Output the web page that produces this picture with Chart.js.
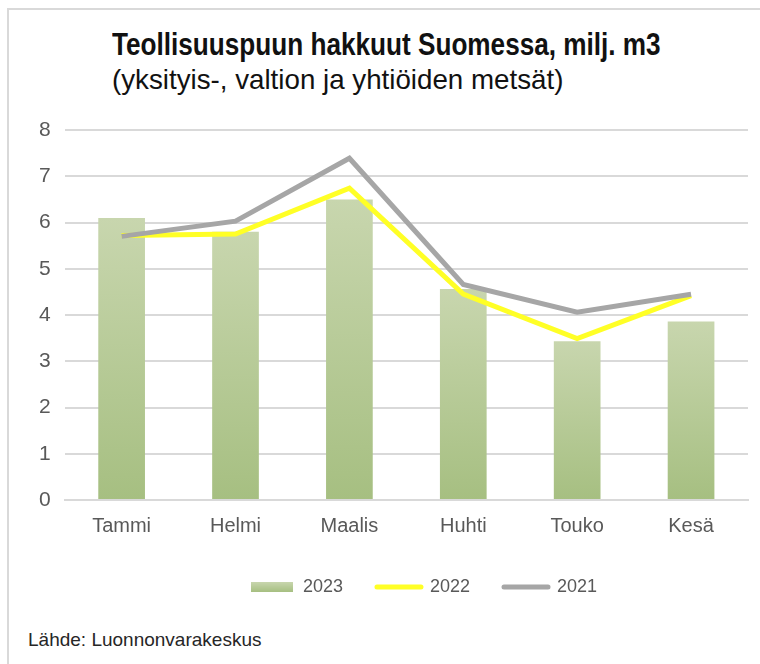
<!DOCTYPE html>
<html>
<head>
<meta charset="utf-8">
<script src="https://cdn.jsdelivr.net/npm/chart.js@4"></script>
<style>
  body { margin: 0; background: #fff; }
  #wrap { position: relative; width: 760px; height: 664px; overflow: hidden; }
  #frame { position: absolute; left: 7px; top: 8px; width: 760px; height: 680px;
           border-top: 2px solid #d9d9d9; border-left: 2px solid #d9d9d9; }
  .head { position: absolute; left: 112px; white-space: nowrap; transform-origin: left top;
          font-family: "Liberation Sans", Arial, sans-serif; color: #111; }
  #title { top: 26px; font-size: 32px; font-weight: bold; transform: scaleX(0.817); }
  #subtitle { top: 64px; font-size: 28px; transform: scaleX(0.99); }
  #source { position: absolute; left: 28px; top: 629px; font-family: "Liberation Sans", Arial, sans-serif;
            font-size: 19px; color: #262626; }
  canvas { position: absolute; left: 0; top: 0; }
</style>
</head>
<body>
<div id="wrap">
  <div id="frame"></div>
  <div id="title" class="head">Teollisuuspuun hakkuut Suomessa, milj. m3</div>
  <div id="subtitle" class="head">(yksityis-, valtion ja yhtiöiden metsät)</div>
  <div id="source">Lähde: Luonnonvarakeskus</div>
  <canvas id="chart" width="760" height="664"></canvas>
</div>
<script>
const months = ['Tammi', 'Helmi', 'Maalis', 'Huhti', 'Touko', 'Kesä'];
const values2023 = [6.1, 5.8, 6.5, 4.56, 3.43, 3.86];
const values2022 = [5.72, 5.75, 6.74, 4.45, 3.49, 4.42];
const values2021 = [5.7, 6.03, 7.39, 4.66, 4.06, 4.45];

const barTop = '#c8d6ae';
const barBottom = '#a6bf81';

function barGradient(ctx) {
  const chart = ctx.chart;
  const y = chart.scales.y;
  if (!chart.chartArea || !y) return barTop;
  const top = y.getPixelForValue(ctx.raw);
  const base = y.getPixelForValue(0);
  const g = chart.ctx.createLinearGradient(0, top, 0, base);
  g.addColorStop(0, barTop);
  g.addColorStop(1, barBottom);
  return g;
}

// legend swatch for the bars
const swatch = document.createElement('canvas');
swatch.width = 42;
swatch.height = 10;
const sctx = swatch.getContext('2d');
const sg = sctx.createLinearGradient(0, 0, 0, 10);
sg.addColorStop(0, barTop);
sg.addColorStop(1, barBottom);
sctx.fillStyle = sg;
sctx.fillRect(0, 0, 42, 10);

// the legend sits a bit right of centre in the original
const legendShift = {
  id: 'legendShift',
  afterLayout(chart) {
    const lg = chart.legend;
    if (!lg) return;
    lg.left += 37;
    lg.right += 37;
  }
};

const chart = new Chart(document.getElementById('chart'), {
  type: 'bar',
  data: {
    labels: months,
    datasets: [
      {
        label: '2023',
        data: values2023,
        backgroundColor: barGradient,
        categoryPercentage: 1,
        barPercentage: 0.41,
        order: 3,
        pointStyle: swatch
      },
      {
        type: 'line',
        label: '2022',
        data: values2022,
        borderColor: '#ffff26',
        borderWidth: 5,
        pointRadius: 0,
        tension: 0,
        order: 2,
        pointStyle: 'line'
      },
      {
        type: 'line',
        label: '2021',
        data: values2021,
        borderColor: '#a6a6a6',
        borderWidth: 5,
        pointRadius: 0,
        tension: 0,
        order: 1,
        pointStyle: 'line'
      }
    ]
  },
  plugins: [legendShift],
  options: {
    responsive: false,
    animation: false,
    layout: {
      padding: { top: 130, left: 25, right: 12, bottom: 58 }
    },
    scales: {
      x: {
        grid: { display: false },
        border: { color: '#d9d9d9', width: 2 },
        ticks: { color: '#595959', font: { family: 'Liberation Sans', size: 20 }, padding: 6 }
      },
      y: {
        min: 0,
        max: 8,
        ticks: { stepSize: 1, color: '#595959', font: { family: 'Liberation Sans', size: 21 }, padding: 14 },
        grid: { color: '#d9d9d9', lineWidth: 2, drawTicks: false },
        border: { display: false }
      }
    },
    plugins: {
      legend: {
        position: 'bottom',
        labels: {
          usePointStyle: true,
          pointStyleWidth: 44,
          boxHeight: 10,
          padding: 34,
          color: '#595959',
          font: { family: 'Liberation Sans', size: 18 },
          generateLabels(chart) {
            return chart.data.datasets.map((ds, i) => ({
              text: ds.label,
              datasetIndex: i,
              pointStyle: ds.pointStyle,
              strokeStyle: ds.type === 'line' ? ds.borderColor : barTop,
              fillStyle: ds.type === 'line' ? ds.borderColor : barTop,
              lineWidth: ds.type === 'line' ? 5 : 0,
              lineCap: 'round',
              fontColor: '#595959'
            }));
          }
        }
      },
      tooltip: { enabled: false }
    }
  }
});
</script>
</body>
</html>
